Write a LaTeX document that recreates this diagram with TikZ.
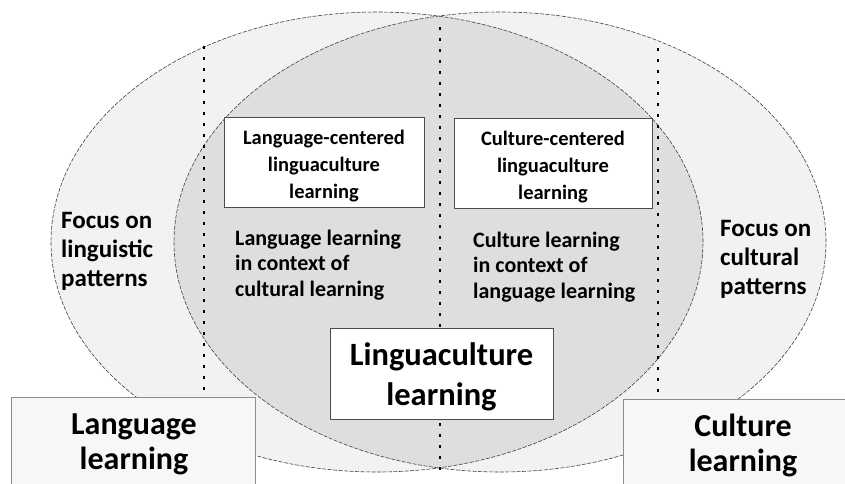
\documentclass[tikz,border=0pt]{standalone}
\usepackage{fontspec}
\setmainfont{Carlito}
\begin{document}
\begin{tikzpicture}[x=1pt,y=-1pt,
  outerfill/.style={fill=black!5},
  overlapfill/.style={fill=black!13},
  ellborder/.style={draw=black!75, line width=0.6pt, dash pattern=on 4pt off 1.5pt},
  divider/.style={draw=black, line width=2.7pt, dash pattern=on 2.7pt off 8.3pt},
  innerbox/.style={draw=black!70, fill=white, line width=0.8pt, inner sep=0pt, align=center},
  bigbox/.style={draw=black!45, fill=black!3, line width=0.8pt, inner sep=0pt},
  boxtxt/.style={font=\fontsize{20.5}{27}\selectfont\bfseries, inner sep=0pt, align=center},
  ctxtxt/.style={font=\fontsize{22}{25.5}\selectfont\bfseries, inner sep=0pt, align=left, anchor=west},
  focustxt/.style={font=\fontsize{25}{29}\selectfont\bfseries, inner sep=0pt, align=left, anchor=west},
  midtxt/.style={font=\fontsize{32.5}{40}\selectfont\bfseries, inner sep=0pt, align=center},
  bigtxt/.style={font=\fontsize{32}{35}\selectfont\bfseries, inner sep=0pt, align=center}]
\useasboundingbox (0,0) rectangle (845,483);
% ellipses
\fill[outerfill] (377,242) ellipse [x radius=326pt, y radius=230pt];
\fill[outerfill] (500,242) ellipse [x radius=326pt, y radius=230pt];
\begin{scope}
  \clip (377,242) ellipse [x radius=326pt, y radius=230pt];
  \fill[overlapfill] (500,242) ellipse [x radius=326pt, y radius=230pt];
\end{scope}
\draw[ellborder] (377,242) ellipse [x radius=326pt, y radius=230pt];
\draw[ellborder] (500,242) ellipse [x radius=326pt, y radius=230pt];
% dividers
\coordinate (d1t) at (204,46);
\coordinate (d1b) at (204,397);
\coordinate (d2t) at (440,27);
\coordinate (d2b) at (440,470);
\coordinate (d3t) at (658,48);
\coordinate (d3b) at (658,399);
\draw[divider] (d1t) -- (d1b);
\draw[divider] (d2t) -- (d2b);
\draw[divider] (d3t) -- (d3b);
% inner boxes
\node[innerbox, minimum width=200pt, minimum height=90pt] (lcbox) at (324,162) {};
\node[boxtxt] (lctxt) at (324,166) {Language-centered\\linguaculture\\learning};
\node[innerbox, minimum width=198pt, minimum height=90pt] (ccbox) at (553,163) {};
\node[boxtxt] (cctxt) at (553,167) {Culture-centered\\linguaculture\\learning};
% context texts
\node[ctxtxt] (lctx) at (235,265) {Language learning\\in context of\\cultural learning};
\node[ctxtxt] (cctx) at (473,267) {Culture learning\\in context of\\language learning};
% focus texts
\node[focustxt] (focl) at (61,251) {Focus on\\linguistic\\patterns};
\node[focustxt] (focc) at (720,259) {Focus on\\cultural\\patterns};
% middle box
\node[innerbox, minimum width=223pt, minimum height=91pt] (lingbox) at (441.5,373.5) {};
\node[midtxt] (lingtxt) at (441.5,377) {Linguaculture\\learning};
% big boxes
\node[bigbox, minimum width=244pt, minimum height=110pt, anchor=north west] (langbox) at (11,397) {};
\node[bigtxt] (langtxt) at (134,444) {Language\\learning};
\node[bigbox, minimum width=240pt, minimum height=110pt, anchor=north west] (cultbox) at (623,399) {};
\node[bigtxt] (culttxt) at (743,445) {Culture\\learning};
\end{tikzpicture}
\end{document}
